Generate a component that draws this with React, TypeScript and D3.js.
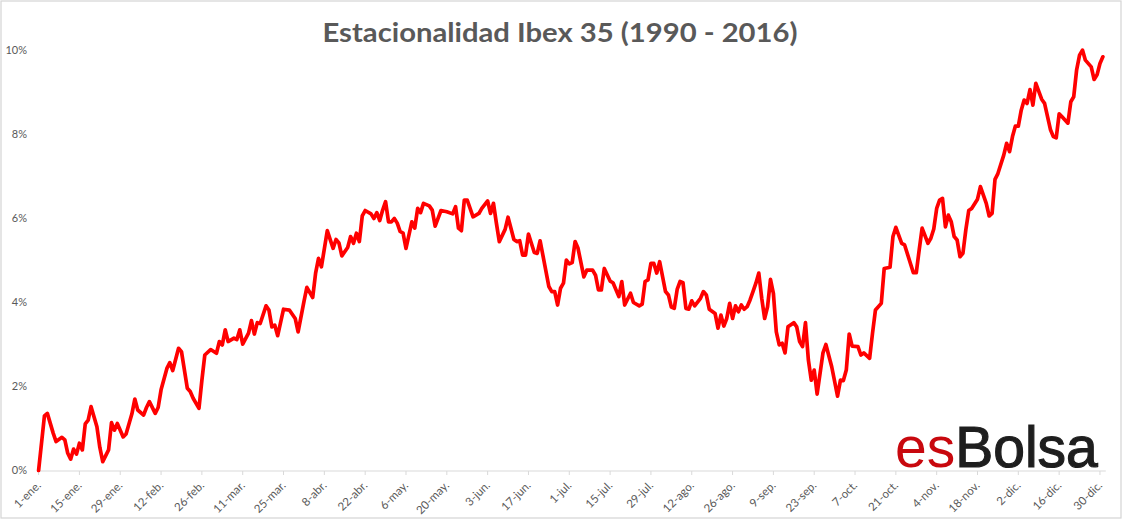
import React from "react";
import * as d3 from "d3";

// Day of year (0 = 1-ene., leap year 2016) and average cumulative return (%)
const DAYS_H1 = [0,2,3,5,6,8,9,10,11,12,13,14,15,16,17,18,20,21,22,24,25,26,27,29,30,32,33,34,36,37,38,40,41,42,44,45,46,48,49,51,52,53,55,56,57,59,61,62,63,64,65,67,68,69,70,72,73,74,75,76,78,79,80,81,82,84,86,88,89,91,92,94,95,96,97,99,101,102,103,104,106,107,108,109,110,111,112,114,115,116,117,118,119,120,121,122,123,124,125,126,128,129,130,131,132,134,135,136,138,140,142,143,144,145,146,147,149,151,152,154,155,156,157,158,160,161,163,164,165,166,167,168,170,171,172,175,176,177,178,179,180,181];
const VALUES_H1 = [0.00,1.30,1.36,0.89,0.69,0.79,0.73,0.41,0.27,0.51,0.39,0.65,0.49,1.11,1.20,1.52,1.04,0.55,0.21,0.49,1.14,0.96,1.12,0.80,0.87,1.35,1.70,1.44,1.32,1.50,1.64,1.36,1.50,1.92,2.43,2.57,2.38,2.91,2.83,1.96,1.88,1.72,1.48,2.15,2.75,2.88,2.79,3.07,2.99,3.35,3.07,3.15,3.12,3.35,3.01,3.27,3.57,3.25,3.52,3.50,3.92,3.82,3.42,3.46,3.21,3.84,3.82,3.62,3.30,4.02,4.36,4.12,4.70,5.05,4.85,5.71,5.29,5.50,5.42,5.11,5.31,5.57,5.41,5.65,5.45,6.06,6.19,6.11,6.00,6.14,5.95,6.20,6.40,5.92,5.92,6.00,5.89,5.69,5.65,5.29,5.92,5.77,6.24,6.14,6.36,6.30,6.20,5.82,6.19,6.16,6.11,6.28,5.77,5.71,6.44,6.44,6.04,6.12,6.24,6.42,6.12,6.36,5.89,5.45,5.74,6.03,5.50,5.45,5.47,5.13,5.13,5.63,5.19,5.17,5.47,4.38,4.26,4.26,3.94,4.34,4.46,5.01];

const DAYS_H2 = [182,183,184,185,187,188,190,191,192,193,194,196,197,199,200,201,203,204,206,207,208,209,210,211,212,213,215,216,217,218,219,220,221,222,223,224,225,227,228,229,230,232,233,234,235,236,237,238,239,240,241,242,243,244,245,246,247,248,249,250,251,252,253,254,255,256,257,259,260,261,262,263,264,265,266,267,269,270,272,274,275,276,277,278,279,281,282,283,285,286,287,289,290,292,293,294,296,297,299,300,301,302,303,305,306,307,308,309,310,311,312,313,314,315,316,317,318,319,320,322,323,325,326,327,328,329,331,332,333,334,335,336,337,338,339,340,341,342,344,345,347,348,349,350,351,353,354,355,356,357,358,359,361,362,363,364,365];
const VALUES_H2 = [4.92,4.95,5.45,5.29,4.61,4.77,4.77,4.65,4.30,4.30,4.81,4.51,4.47,4.14,4.50,3.94,4.22,4.00,3.92,3.96,4.50,4.54,4.93,4.93,4.70,4.97,4.26,4.18,3.89,3.86,4.31,4.50,4.47,3.86,3.84,4.04,3.92,4.10,4.26,4.18,3.84,3.74,3.39,3.70,3.44,3.62,3.98,3.62,3.92,3.78,3.94,3.84,3.90,4.06,4.26,4.46,4.70,4.10,3.62,3.90,4.55,4.22,3.30,2.99,3.03,2.80,3.42,3.52,3.42,3.07,2.95,3.52,2.63,2.15,2.39,1.82,2.80,3.00,2.47,1.77,2.15,2.14,2.39,3.25,2.96,2.95,2.75,2.80,2.67,3.27,3.82,3.98,4.81,4.84,5.57,5.79,5.41,5.37,4.93,4.71,4.71,5.25,5.77,5.41,5.53,5.75,6.24,6.44,6.48,5.80,6.08,5.92,5.57,5.49,5.09,5.17,5.73,6.19,6.24,6.46,6.76,6.36,6.06,6.12,6.93,7.07,7.51,7.79,7.59,7.95,8.20,8.20,8.58,8.82,8.74,9.07,8.70,9.22,8.84,8.74,8.12,7.95,7.92,8.49,8.42,8.27,8.78,8.90,9.54,9.89,10.01,9.77,9.61,9.31,9.42,9.69,9.85];

const TICK_DAYS = [0,14,28,42,56,70,84,98,112,126,140,154,168,182,196,210,224,238,252,266,280,294,308,322,336,350,364];
const TICK_LABELS = ["1-ene.","15-ene.","29-ene.","12-feb.","26-feb.","11-mar.","25-mar.","8-abr.","22-abr.","6-may.","20-may.","3-jun.","17-jun.","1-jul.","15-jul.","29-jul.","12-ago.","26-ago.","9-sep.","23-sep.","7-oct.","21-oct.","4-nov.","18-nov.","2-dic.","16-dic.","30-dic."];
const Y_TICKS = [0, 2, 4, 6, 8, 10];

const TITLE = "Estacionalidad Ibex 35 (1990 - 2016)";

const W = 1123;
const H = 520;

export default function App() {
  const days = [...DAYS_H1, ...DAYS_H2];
  const values = [...VALUES_H1, ...VALUES_H2];
  const data = days.map((d, i) => ({ d, v: values[i] }));

  const x = d3.scaleLinear().domain([0, 366]).range([38.6, 1105.8]);
  const y = d3.scaleLinear().domain([0, 10]).range([470.5, 50.5]);

  const line = d3
    .line<{ d: number; v: number }>()
    .x((p) => x(p.d))
    .y((p) => y(p.v));

  const axisY = 471;
  const gray = "#595959";
  const font = "Lato, 'Open Sans', sans-serif";

  return (
    <svg
      width={W}
      height={H}
      style={{ position: "absolute", left: 0, top: 0, background: "#fff" }}
    >
      <rect x={0} y={0} width={W} height={H} fill="#fff" />
      <rect x={1} y={1} width={1120} height={517} fill="none" stroke="#d4d4d4" strokeWidth={1.2} />

      <text
        x={560}
        y={42}
        textAnchor="middle"
        fontFamily={font}
        fontWeight={700}
        fontSize={26}
        fill={gray}
        textLength={475}
        lengthAdjust="spacingAndGlyphs"
      >
        {TITLE}
      </text>

      {Y_TICKS.map((t) => (
        <text
          key={t}
          x={27}
          y={y(t)}
          dy="0.35em"
          textAnchor="end"
          fontFamily={font}
          fontSize={11}
          fill={gray}
        >
          {t + "%"}
        </text>
      ))}

      <line x1={x(0)} x2={x(366)} y1={axisY} y2={axisY} stroke="#d9d9d9" strokeWidth={1} />
      {TICK_DAYS.map((d) => (
        <line key={d} x1={x(d)} x2={x(d)} y1={axisY} y2={axisY + 4} stroke="#d9d9d9" strokeWidth={1} />
      ))}
      {TICK_DAYS.map((d, i) => (
        <text
          key={"l" + d}
          transform={`translate(${x(d) + 3},${486}) rotate(-45)`}
          textAnchor="end"
          fontFamily={font}
          fontSize={11.5}
          fill={gray}
        >
          {TICK_LABELS[i]}
        </text>
      ))}

      <text x={895} y={467} fontFamily="'Liberation Sans', Arial, sans-serif" fontSize={57}>
        <tspan fill="#c8080e">es</tspan>
        <tspan fill="#1e1e1e" stroke="#1e1e1e" strokeWidth={1.2}>Bolsa</tspan>
      </text>

      <path
        d={line(data) || ""}
        fill="none"
        stroke="#ff0000"
        strokeWidth={3.7}
        strokeLinejoin="round"
        strokeLinecap="round"
      />
    </svg>
  );
}
